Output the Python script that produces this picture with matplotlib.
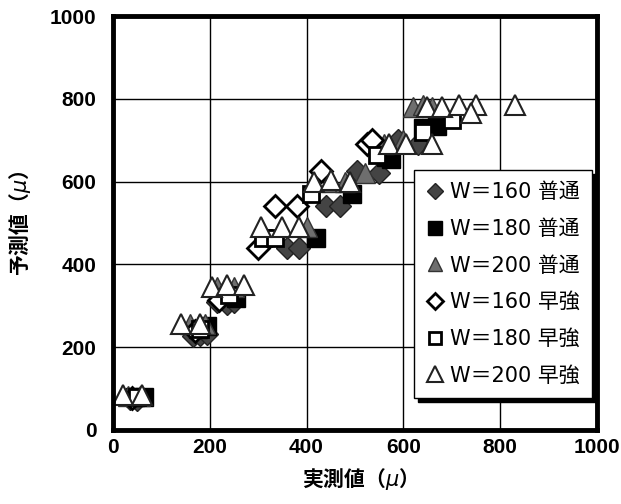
import matplotlib.pyplot as plt

plt.rcParams['font.family'] = ['Liberation Sans', 'Noto Sans CJK JP', 'DejaVu Sans']

# W=160 普通 (filled diamond)
x_160n = [35, 50, 165, 180, 195, 215, 235, 250, 360, 385, 440, 470, 505, 550, 590, 630]
y_160n = [75, 72, 228, 230, 232, 310, 305, 310, 440, 440, 540, 540, 625, 620, 700, 690]
# W=180 普通 (filled square)
x_180n = [45, 65, 175, 195, 230, 255, 420, 495, 565, 575, 640, 670]
y_180n = [80, 80, 245, 250, 330, 320, 465, 570, 660, 655, 730, 735]
# W=200 普通 (filled triangle)
x_200n = [30, 55, 160, 190, 215, 250, 400, 450, 480, 520, 560, 600, 620, 640, 660]
y_200n = [82, 82, 255, 255, 345, 345, 490, 600, 600, 620, 690, 700, 780, 785, 780]
# W=160 早強 (open diamond)
x_160h = [40, 170, 220, 300, 335, 380, 430, 525, 535]
y_160h = [78, 240, 315, 440, 540, 540, 625, 690, 700]
# W=180 早強 (open square)
x_180h = [50, 180, 240, 310, 335, 410, 545, 640, 700]
y_180h = [80, 245, 325, 465, 465, 570, 665, 720, 750]
# W=200 早強 (open triangle)
x_200h = [20, 60, 140, 180, 205, 235, 270, 305, 350, 385, 415, 450, 490,
          570, 605, 660, 650, 680, 715, 750, 740, 830]
y_200h = [85, 85, 255, 255, 345, 350, 350, 490, 490, 490, 600, 605, 600,
          690, 690, 690, 780, 780, 785, 785, 765, 785]

fig = plt.figure(figsize=(6.21, 5.04), dpi=100)
ax = fig.add_axes([0.182, 0.147, 0.779, 0.821])

ax.plot(x_160n, y_160n, 'D', ms=11, mfc='#444444', mec='#222222', mew=1, ls='none', label='W＝160 普通')
ax.plot(x_180n, y_180n, 's', ms=13, mfc='black', mec='black', ls='none', label='W＝180 普通')
ax.plot(x_200n, y_200n, '^', ms=14, mfc='#6e6e6e', mec='#333333', mew=1, ls='none', label='W＝200 普通')
ax.plot(x_160h, y_160h, 'D', ms=11, mfc='white', mec='black', mew=2, ls='none', label='W＝160 早強')
ax.plot(x_180h, y_180h, 's', ms=12, mfc='white', mec='black', mew=2, ls='none', label='W＝180 早強')
ax.plot(x_200h, y_200h, '^', ms=15, mfc='white', mec='#222222', mew=1.5, ls='none', label='W＝200 早強')

ax.set_xlim(0, 1000)
ax.set_ylim(0, 1000)
ax.set_xticks(range(0, 1001, 200))
ax.set_yticks(range(0, 1001, 200))
ax.grid(True, color='black', linewidth=1)
ax.set_axisbelow(True)
ax.tick_params(length=0, labelsize=15)
ax.tick_params(axis='x', pad=6)
ax.tick_params(axis='y', pad=12)
for lab in ax.get_xticklabels() + ax.get_yticklabels():
    lab.set_fontweight('bold')
for sp in ax.spines.values():
    sp.set_linewidth(3.5)

ax.set_xlabel('実測値（$\\mu$）', fontsize=15, fontweight='bold',
              family=['Noto Sans CJK JP'], labelpad=6)
ax.set_ylabel('予測値（$\\mu$）', fontsize=15, fontweight='bold',
              family=['Noto Sans CJK JP'], labelpad=12)

leg = ax.legend(loc='lower right', bbox_to_anchor=(0.99, 0.077), borderaxespad=0,
                prop={'family': ['DejaVu Sans', 'Noto Sans CJK JP'], 'size': 15},
                handlelength=0.8, handletextpad=0.3, labelspacing=0.8,
                borderpad=0.6, markerscale=0.75, fancybox=False, framealpha=1,
                edgecolor='black', shadow={'color': 'black', 'alpha': 1, 'ox': 3, 'oy': -3})
leg.get_frame().set_linewidth(1)

fig.savefig('out.png', dpi=100)
